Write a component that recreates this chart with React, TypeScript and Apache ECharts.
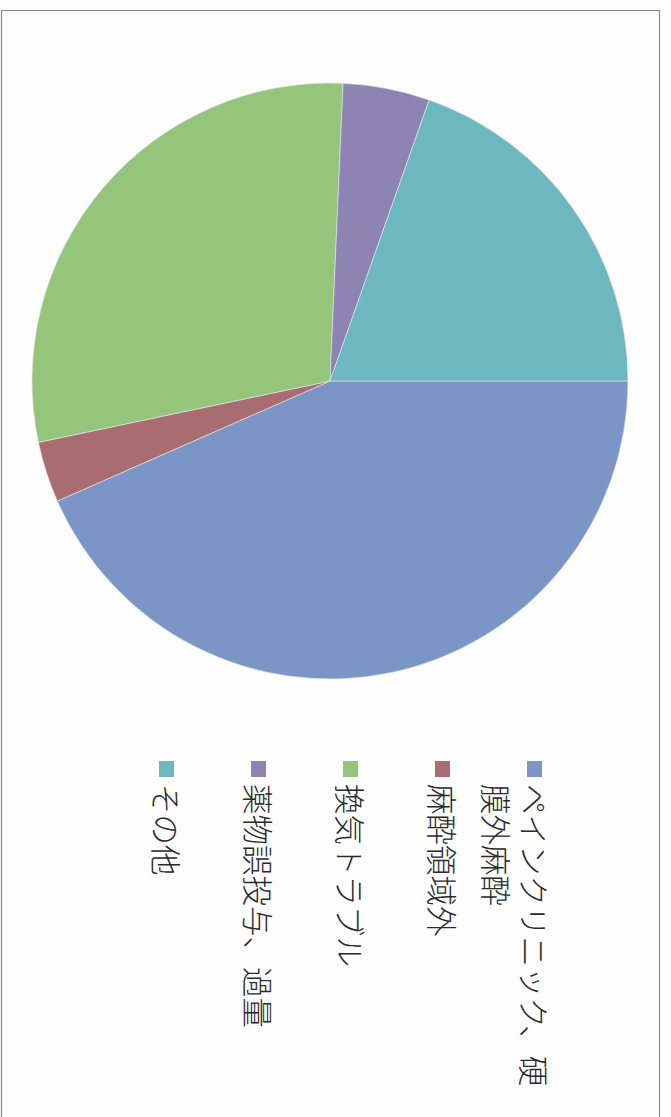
import React, { useEffect, useRef } from "react";
import * as echarts from "echarts";

const categories = [
  "ペインクリニック、硬膜外麻酔",
  "麻酔領域外",
  "換気トラブル",
  "薬物誤投与、過量",
  "その他",
];
const values = [43.4, 3.3, 29.0, 4.7, 19.6];
const colors = ["#7b96c6", "#a96d71", "#95c47b", "#8d84b4", "#6db8bf"];

export default function App() {
  const ref = useRef<HTMLDivElement>(null);
  useEffect(() => {
    if (!ref.current) return;
    const chart = echarts.init(ref.current, undefined, { renderer: "svg" });
    const legendX0 = 534.5;
    const legendGap = 92;
    const graphics: any[] = [
      {
        type: "rect",
        shape: { x: 1.5, y: 10.5, width: 658, height: 1130 },
        style: { fill: "none", stroke: "#8a8a8a", lineWidth: 1.2 },
        silent: true,
      },
    ];
    categories.forEach((name, i) => {
      const cx = legendX0 - legendGap * i;
      graphics.push({
        type: "rect",
        shape: { x: cx - 7.5, y: 761, width: 15, height: 16 },
        style: { fill: colors[i] },
      });
      graphics.push({
        type: "text",
        x: cx + 19,
        y: 784,
        rotation: -Math.PI / 2,
        style: {
          text: name,
          fontSize: 30.5,
          lineHeight: 38,
          fontFamily: "Noto Sans CJK JP",
          fontWeight: 300,
          fill: "#2a2a2a",
          align: "left",
          verticalAlign: "top",
          width: 312,
          overflow: "break",
        },
      });
    });
    chart.setOption({
      animation: false,
      backgroundColor: "#fdfdfd",
      color: colors,
      graphic: graphics,
      series: [
        {
          type: "pie",
          center: [330, 381],
          radius: 298,
          startAngle: 0,
          clockwise: true,
          label: { show: false },
          labelLine: { show: false },
          emphasis: { disabled: true },
          itemStyle: { borderColor: "#e8e8ee", borderWidth: 0.6 },
          data: categories.map((n, i) => ({ name: n, value: values[i] })),
        },
      ],
    });
    return () => chart.dispose();
  }, []);
  return (
    <div
      ref={ref}
      style={{ position: "fixed", left: 0, top: 0, width: 671, height: 1117 }}
    />
  );
}
